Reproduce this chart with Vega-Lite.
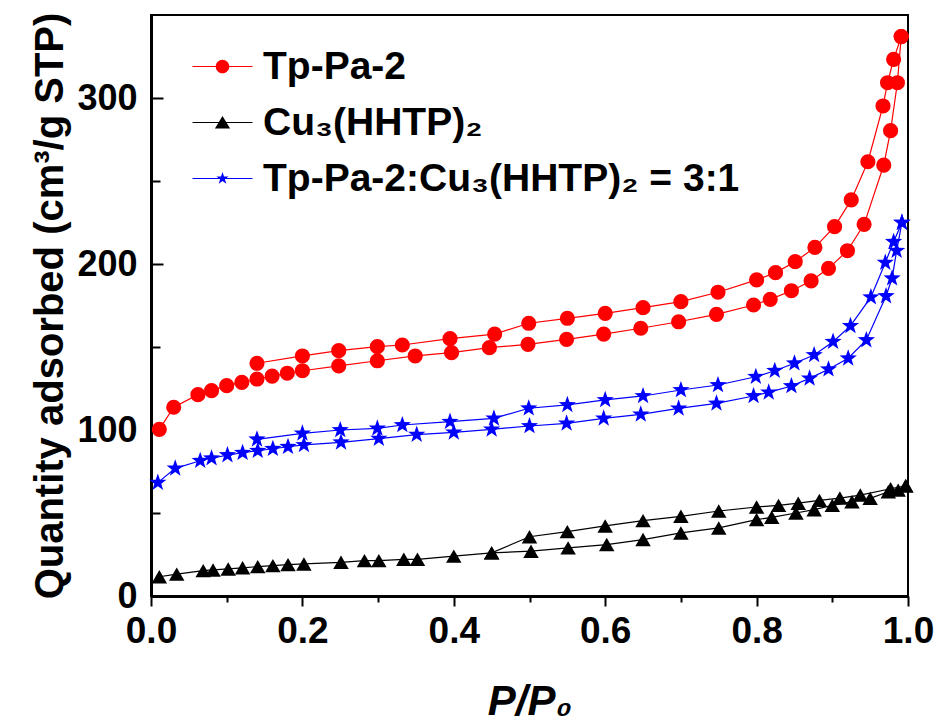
{
  "$schema": "https://vega.github.io/schema/vega-lite/v6.json",
  "width": 757,
  "height": 581,
  "autosize": "none",
  "padding": {"left": 151, "top": 15, "right": 30, "bottom": 131},
  "background": "white",
  "config": {
    "view": {"stroke": "black", "strokeWidth": 2},
    "font": "Liberation Sans"
  },
  "data": {
    "values": [
      {"s": "Tp-Pa-2", "b": "ads", "x": 0.011, "y": 100.4},
      {"s": "Tp-Pa-2", "b": "ads", "x": 0.030, "y": 113.7},
      {"s": "Tp-Pa-2", "b": "ads", "x": 0.062, "y": 121.3},
      {"s": "Tp-Pa-2", "b": "ads", "x": 0.080, "y": 123.7},
      {"s": "Tp-Pa-2", "b": "ads", "x": 0.100, "y": 126.7},
      {"s": "Tp-Pa-2", "b": "ads", "x": 0.120, "y": 128.7},
      {"s": "Tp-Pa-2", "b": "ads", "x": 0.140, "y": 130.7},
      {"s": "Tp-Pa-2", "b": "ads", "x": 0.160, "y": 132.5},
      {"s": "Tp-Pa-2", "b": "ads", "x": 0.180, "y": 134.2},
      {"s": "Tp-Pa-2", "b": "ads", "x": 0.200, "y": 135.7},
      {"s": "Tp-Pa-2", "b": "ads", "x": 0.248, "y": 138.6},
      {"s": "Tp-Pa-2", "b": "ads", "x": 0.299, "y": 141.7},
      {"s": "Tp-Pa-2", "b": "ads", "x": 0.349, "y": 144.6},
      {"s": "Tp-Pa-2", "b": "ads", "x": 0.397, "y": 146.6},
      {"s": "Tp-Pa-2", "b": "ads", "x": 0.447, "y": 149.6},
      {"s": "Tp-Pa-2", "b": "ads", "x": 0.498, "y": 151.6},
      {"s": "Tp-Pa-2", "b": "ads", "x": 0.549, "y": 154.6},
      {"s": "Tp-Pa-2", "b": "ads", "x": 0.598, "y": 157.8},
      {"s": "Tp-Pa-2", "b": "ads", "x": 0.647, "y": 161.3},
      {"s": "Tp-Pa-2", "b": "ads", "x": 0.697, "y": 165.2},
      {"s": "Tp-Pa-2", "b": "ads", "x": 0.747, "y": 169.7},
      {"s": "Tp-Pa-2", "b": "ads", "x": 0.796, "y": 175.3},
      {"s": "Tp-Pa-2", "b": "ads", "x": 0.818, "y": 178.7},
      {"s": "Tp-Pa-2", "b": "ads", "x": 0.846, "y": 183.9},
      {"s": "Tp-Pa-2", "b": "ads", "x": 0.872, "y": 189.8},
      {"s": "Tp-Pa-2", "b": "ads", "x": 0.895, "y": 197.4},
      {"s": "Tp-Pa-2", "b": "ads", "x": 0.920, "y": 208.0},
      {"s": "Tp-Pa-2", "b": "ads", "x": 0.942, "y": 223.9},
      {"s": "Tp-Pa-2", "b": "ads", "x": 0.968, "y": 259.6},
      {"s": "Tp-Pa-2", "b": "ads", "x": 0.977, "y": 280.3},
      {"s": "Tp-Pa-2", "b": "ads", "x": 0.986, "y": 309.2},
      {"s": "Tp-Pa-2", "b": "ads", "x": 0.991, "y": 337.0},
      {"s": "Tp-Pa-2", "b": "des", "x": 0.991, "y": 337.0},
      {"s": "Tp-Pa-2", "b": "des", "x": 0.981, "y": 323.3},
      {"s": "Tp-Pa-2", "b": "des", "x": 0.973, "y": 309.2},
      {"s": "Tp-Pa-2", "b": "des", "x": 0.967, "y": 295.2},
      {"s": "Tp-Pa-2", "b": "des", "x": 0.947, "y": 261.6},
      {"s": "Tp-Pa-2", "b": "des", "x": 0.925, "y": 238.6},
      {"s": "Tp-Pa-2", "b": "des", "x": 0.903, "y": 222.5},
      {"s": "Tp-Pa-2", "b": "des", "x": 0.877, "y": 210.0},
      {"s": "Tp-Pa-2", "b": "des", "x": 0.851, "y": 201.4},
      {"s": "Tp-Pa-2", "b": "des", "x": 0.825, "y": 194.8},
      {"s": "Tp-Pa-2", "b": "des", "x": 0.800, "y": 190.4},
      {"s": "Tp-Pa-2", "b": "des", "x": 0.749, "y": 183.0},
      {"s": "Tp-Pa-2", "b": "des", "x": 0.700, "y": 177.3},
      {"s": "Tp-Pa-2", "b": "des", "x": 0.650, "y": 173.7},
      {"s": "Tp-Pa-2", "b": "des", "x": 0.600, "y": 170.3},
      {"s": "Tp-Pa-2", "b": "des", "x": 0.550, "y": 167.3},
      {"s": "Tp-Pa-2", "b": "des", "x": 0.499, "y": 164.3},
      {"s": "Tp-Pa-2", "b": "des", "x": 0.454, "y": 157.8},
      {"s": "Tp-Pa-2", "b": "des", "x": 0.395, "y": 155.0},
      {"s": "Tp-Pa-2", "b": "des", "x": 0.332, "y": 151.2},
      {"s": "Tp-Pa-2", "b": "des", "x": 0.299, "y": 150.2},
      {"s": "Tp-Pa-2", "b": "des", "x": 0.248, "y": 147.8},
      {"s": "Tp-Pa-2", "b": "des", "x": 0.200, "y": 144.6},
      {"s": "Tp-Pa-2", "b": "des", "x": 0.140, "y": 140.2},
      {"s": "Cu₃(HHTP)₂", "b": "ads", "x": 0.011, "y": 11.6},
      {"s": "Cu₃(HHTP)₂", "b": "ads", "x": 0.034, "y": 13.2},
      {"s": "Cu₃(HHTP)₂", "b": "ads", "x": 0.069, "y": 15.3},
      {"s": "Cu₃(HHTP)₂", "b": "ads", "x": 0.082, "y": 15.7},
      {"s": "Cu₃(HHTP)₂", "b": "ads", "x": 0.102, "y": 16.3},
      {"s": "Cu₃(HHTP)₂", "b": "ads", "x": 0.121, "y": 17.0},
      {"s": "Cu₃(HHTP)₂", "b": "ads", "x": 0.141, "y": 17.7},
      {"s": "Cu₃(HHTP)₂", "b": "ads", "x": 0.161, "y": 18.3},
      {"s": "Cu₃(HHTP)₂", "b": "ads", "x": 0.181, "y": 18.9},
      {"s": "Cu₃(HHTP)₂", "b": "ads", "x": 0.202, "y": 19.3},
      {"s": "Cu₃(HHTP)₂", "b": "ads", "x": 0.251, "y": 20.3},
      {"s": "Cu₃(HHTP)₂", "b": "ads", "x": 0.282, "y": 21.3},
      {"s": "Cu₃(HHTP)₂", "b": "ads", "x": 0.301, "y": 21.3},
      {"s": "Cu₃(HHTP)₂", "b": "ads", "x": 0.334, "y": 22.1},
      {"s": "Cu₃(HHTP)₂", "b": "ads", "x": 0.352, "y": 22.1},
      {"s": "Cu₃(HHTP)₂", "b": "ads", "x": 0.400, "y": 24.0},
      {"s": "Cu₃(HHTP)₂", "b": "ads", "x": 0.450, "y": 26.0},
      {"s": "Cu₃(HHTP)₂", "b": "ads", "x": 0.502, "y": 27.0},
      {"s": "Cu₃(HHTP)₂", "b": "ads", "x": 0.551, "y": 29.0},
      {"s": "Cu₃(HHTP)₂", "b": "ads", "x": 0.602, "y": 31.0},
      {"s": "Cu₃(HHTP)₂", "b": "ads", "x": 0.650, "y": 34.0},
      {"s": "Cu₃(HHTP)₂", "b": "ads", "x": 0.700, "y": 38.0},
      {"s": "Cu₃(HHTP)₂", "b": "ads", "x": 0.750, "y": 41.0},
      {"s": "Cu₃(HHTP)₂", "b": "ads", "x": 0.800, "y": 46.0},
      {"s": "Cu₃(HHTP)₂", "b": "ads", "x": 0.820, "y": 47.4},
      {"s": "Cu₃(HHTP)₂", "b": "ads", "x": 0.852, "y": 50.0},
      {"s": "Cu₃(HHTP)₂", "b": "ads", "x": 0.876, "y": 52.0},
      {"s": "Cu₃(HHTP)₂", "b": "ads", "x": 0.900, "y": 54.6},
      {"s": "Cu₃(HHTP)₂", "b": "ads", "x": 0.926, "y": 56.8},
      {"s": "Cu₃(HHTP)₂", "b": "ads", "x": 0.950, "y": 58.8},
      {"s": "Cu₃(HHTP)₂", "b": "ads", "x": 0.974, "y": 62.8},
      {"s": "Cu₃(HHTP)₂", "b": "ads", "x": 0.987, "y": 63.8},
      {"s": "Cu₃(HHTP)₂", "b": "ads", "x": 0.997, "y": 66.4},
      {"s": "Cu₃(HHTP)₂", "b": "des", "x": 0.997, "y": 66.4},
      {"s": "Cu₃(HHTP)₂", "b": "des", "x": 0.977, "y": 64.6},
      {"s": "Cu₃(HHTP)₂", "b": "des", "x": 0.937, "y": 60.8},
      {"s": "Cu₃(HHTP)₂", "b": "des", "x": 0.910, "y": 59.0},
      {"s": "Cu₃(HHTP)₂", "b": "des", "x": 0.883, "y": 57.6},
      {"s": "Cu₃(HHTP)₂", "b": "des", "x": 0.855, "y": 55.9},
      {"s": "Cu₃(HHTP)₂", "b": "des", "x": 0.829, "y": 54.6},
      {"s": "Cu₃(HHTP)₂", "b": "des", "x": 0.800, "y": 53.6},
      {"s": "Cu₃(HHTP)₂", "b": "des", "x": 0.750, "y": 51.2},
      {"s": "Cu₃(HHTP)₂", "b": "des", "x": 0.700, "y": 48.0},
      {"s": "Cu₃(HHTP)₂", "b": "des", "x": 0.650, "y": 45.4},
      {"s": "Cu₃(HHTP)₂", "b": "des", "x": 0.600, "y": 42.2},
      {"s": "Cu₃(HHTP)₂", "b": "des", "x": 0.550, "y": 38.8},
      {"s": "Cu₃(HHTP)₂", "b": "des", "x": 0.500, "y": 35.7},
      {"s": "Cu₃(HHTP)₂", "b": "des", "x": 0.450, "y": 26.0},
      {"s": "Tp-Pa-2:Cu₃(HHTP)₂ = 3:1", "b": "ads", "x": 0.009, "y": 68.3},
      {"s": "Tp-Pa-2:Cu₃(HHTP)₂ = 3:1", "b": "ads", "x": 0.032, "y": 76.9},
      {"s": "Tp-Pa-2:Cu₃(HHTP)₂ = 3:1", "b": "ads", "x": 0.065, "y": 81.5},
      {"s": "Tp-Pa-2:Cu₃(HHTP)₂ = 3:1", "b": "ads", "x": 0.080, "y": 83.0},
      {"s": "Tp-Pa-2:Cu₃(HHTP)₂ = 3:1", "b": "ads", "x": 0.101, "y": 84.9},
      {"s": "Tp-Pa-2:Cu₃(HHTP)₂ = 3:1", "b": "ads", "x": 0.121, "y": 86.3},
      {"s": "Tp-Pa-2:Cu₃(HHTP)₂ = 3:1", "b": "ads", "x": 0.141, "y": 87.5},
      {"s": "Tp-Pa-2:Cu₃(HHTP)₂ = 3:1", "b": "ads", "x": 0.161, "y": 88.7},
      {"s": "Tp-Pa-2:Cu₃(HHTP)₂ = 3:1", "b": "ads", "x": 0.181, "y": 89.9},
      {"s": "Tp-Pa-2:Cu₃(HHTP)₂ = 3:1", "b": "ads", "x": 0.202, "y": 91.0},
      {"s": "Tp-Pa-2:Cu₃(HHTP)₂ = 3:1", "b": "ads", "x": 0.251, "y": 92.6},
      {"s": "Tp-Pa-2:Cu₃(HHTP)₂ = 3:1", "b": "ads", "x": 0.301, "y": 94.8},
      {"s": "Tp-Pa-2:Cu₃(HHTP)₂ = 3:1", "b": "ads", "x": 0.351, "y": 97.2},
      {"s": "Tp-Pa-2:Cu₃(HHTP)₂ = 3:1", "b": "ads", "x": 0.400, "y": 98.6},
      {"s": "Tp-Pa-2:Cu₃(HHTP)₂ = 3:1", "b": "ads", "x": 0.450, "y": 100.4},
      {"s": "Tp-Pa-2:Cu₃(HHTP)₂ = 3:1", "b": "ads", "x": 0.500, "y": 102.4},
      {"s": "Tp-Pa-2:Cu₃(HHTP)₂ = 3:1", "b": "ads", "x": 0.549, "y": 104.0},
      {"s": "Tp-Pa-2:Cu₃(HHTP)₂ = 3:1", "b": "ads", "x": 0.598, "y": 107.0},
      {"s": "Tp-Pa-2:Cu₃(HHTP)₂ = 3:1", "b": "ads", "x": 0.647, "y": 109.4},
      {"s": "Tp-Pa-2:Cu₃(HHTP)₂ = 3:1", "b": "ads", "x": 0.697, "y": 113.0},
      {"s": "Tp-Pa-2:Cu₃(HHTP)₂ = 3:1", "b": "ads", "x": 0.747, "y": 116.0},
      {"s": "Tp-Pa-2:Cu₃(HHTP)₂ = 3:1", "b": "ads", "x": 0.796, "y": 120.5},
      {"s": "Tp-Pa-2:Cu₃(HHTP)₂ = 3:1", "b": "ads", "x": 0.816, "y": 122.7},
      {"s": "Tp-Pa-2:Cu₃(HHTP)₂ = 3:1", "b": "ads", "x": 0.846, "y": 126.5},
      {"s": "Tp-Pa-2:Cu₃(HHTP)₂ = 3:1", "b": "ads", "x": 0.870, "y": 131.1},
      {"s": "Tp-Pa-2:Cu₃(HHTP)₂ = 3:1", "b": "ads", "x": 0.895, "y": 136.6},
      {"s": "Tp-Pa-2:Cu₃(HHTP)₂ = 3:1", "b": "ads", "x": 0.921, "y": 143.2},
      {"s": "Tp-Pa-2:Cu₃(HHTP)₂ = 3:1", "b": "ads", "x": 0.945, "y": 154.2},
      {"s": "Tp-Pa-2:Cu₃(HHTP)₂ = 3:1", "b": "ads", "x": 0.971, "y": 180.7},
      {"s": "Tp-Pa-2:Cu₃(HHTP)₂ = 3:1", "b": "ads", "x": 0.979, "y": 191.4},
      {"s": "Tp-Pa-2:Cu₃(HHTP)₂ = 3:1", "b": "ads", "x": 0.985, "y": 208.0},
      {"s": "Tp-Pa-2:Cu₃(HHTP)₂ = 3:1", "b": "ads", "x": 0.992, "y": 224.9},
      {"s": "Tp-Pa-2:Cu₃(HHTP)₂ = 3:1", "b": "des", "x": 0.992, "y": 224.9},
      {"s": "Tp-Pa-2:Cu₃(HHTP)₂ = 3:1", "b": "des", "x": 0.981, "y": 213.4},
      {"s": "Tp-Pa-2:Cu₃(HHTP)₂ = 3:1", "b": "des", "x": 0.970, "y": 200.8},
      {"s": "Tp-Pa-2:Cu₃(HHTP)₂ = 3:1", "b": "des", "x": 0.951, "y": 180.0},
      {"s": "Tp-Pa-2:Cu₃(HHTP)₂ = 3:1", "b": "des", "x": 0.924, "y": 162.7},
      {"s": "Tp-Pa-2:Cu₃(HHTP)₂ = 3:1", "b": "des", "x": 0.901, "y": 153.2},
      {"s": "Tp-Pa-2:Cu₃(HHTP)₂ = 3:1", "b": "des", "x": 0.876, "y": 145.2},
      {"s": "Tp-Pa-2:Cu₃(HHTP)₂ = 3:1", "b": "des", "x": 0.850, "y": 140.2},
      {"s": "Tp-Pa-2:Cu₃(HHTP)₂ = 3:1", "b": "des", "x": 0.824, "y": 135.7},
      {"s": "Tp-Pa-2:Cu₃(HHTP)₂ = 3:1", "b": "des", "x": 0.799, "y": 132.1},
      {"s": "Tp-Pa-2:Cu₃(HHTP)₂ = 3:1", "b": "des", "x": 0.749, "y": 127.1},
      {"s": "Tp-Pa-2:Cu₃(HHTP)₂ = 3:1", "b": "des", "x": 0.700, "y": 124.1},
      {"s": "Tp-Pa-2:Cu₃(HHTP)₂ = 3:1", "b": "des", "x": 0.650, "y": 120.5},
      {"s": "Tp-Pa-2:Cu₃(HHTP)₂ = 3:1", "b": "des", "x": 0.600, "y": 118.1},
      {"s": "Tp-Pa-2:Cu₃(HHTP)₂ = 3:1", "b": "des", "x": 0.550, "y": 115.1},
      {"s": "Tp-Pa-2:Cu₃(HHTP)₂ = 3:1", "b": "des", "x": 0.499, "y": 113.1},
      {"s": "Tp-Pa-2:Cu₃(HHTP)₂ = 3:1", "b": "des", "x": 0.453, "y": 107.0},
      {"s": "Tp-Pa-2:Cu₃(HHTP)₂ = 3:1", "b": "des", "x": 0.395, "y": 105.0},
      {"s": "Tp-Pa-2:Cu₃(HHTP)₂ = 3:1", "b": "des", "x": 0.332, "y": 103.0},
      {"s": "Tp-Pa-2:Cu₃(HHTP)₂ = 3:1", "b": "des", "x": 0.299, "y": 101.0},
      {"s": "Tp-Pa-2:Cu₃(HHTP)₂ = 3:1", "b": "des", "x": 0.250, "y": 100.0},
      {"s": "Tp-Pa-2:Cu₃(HHTP)₂ = 3:1", "b": "des", "x": 0.200, "y": 98.0},
      {"s": "Tp-Pa-2:Cu₃(HHTP)₂ = 3:1", "b": "des", "x": 0.140, "y": 94.4}
    ]
  },
  "encoding": {
    "x": {
      "field": "x",
      "type": "quantitative",
      "scale": {"domain": [0, 1], "nice": false},
      "axis": {
        "title": "P/P₀",
        "values": [0, 0.1, 0.2, 0.3, 0.4, 0.5, 0.6, 0.7, 0.8, 0.9, 1.0],
        "labelExpr": "round(datum.value*10)%2==0 ? format(datum.value, '.1f') : ''",
        "grid": false,
        "domainColor": "black",
        "domainWidth": 3,
        "tickColor": "black",
        "tickWidth": 2,
        "tickSize": {"condition": {"test": "round(datum.value*10)%2==1", "value": 6}, "value": 10},
        "labelFont": "Liberation Sans",
        "labelFontSize": 37,
        "labelFontWeight": "bold",
        "labelColor": "black",
        "labelPadding": 7,
        "labelFlush": false,
        "labelOverlap": false,
        "titleFont": "Liberation Sans",
        "titleFontSize": 42,
        "titleFontWeight": "bold",
        "titleFontStyle": "italic",
        "titleColor": "black",
        "titlePadding": 32
      }
    },
    "y": {
      "field": "y",
      "type": "quantitative",
      "scale": {"domain": [0, 350], "nice": false, "zero": false},
      "axis": {
        "title": "Quantity adsorbed (cm³/g STP)",
        "values": [0, 50, 100, 150, 200, 250, 300],
        "labelExpr": "datum.value % 100 == 0 ? format(datum.value, 'd') : ''",
        "grid": false,
        "domainColor": "black",
        "domainWidth": 3,
        "tickColor": "black",
        "tickWidth": 2,
        "tickSize": {"condition": {"test": "datum.value % 100 != 0", "value": -9}, "value": -12},
        "labelFont": "Liberation Sans",
        "labelFontSize": 36,
        "labelFontWeight": "bold",
        "labelColor": "black",
        "labelPadding": 26,
        "labelFlush": false,
        "labelOverlap": false,
        "titleFont": "Liberation Sans",
        "titleFontSize": 40,
        "titleFontWeight": "bold",
        "titleColor": "black",
        "titlePadding": 6
      }
    },
    "color": {
      "field": "s",
      "type": "nominal",
      "scale": {
        "domain": ["Tp-Pa-2", "Cu₃(HHTP)₂", "Tp-Pa-2:Cu₃(HHTP)₂ = 3:1"],
        "range": ["#ff0000", "#000000", "#0000ff"]
      },
      "legend": {
        "orient": "none",
        "legendX": 52,
        "legendY": 32,
        "title": null,
        "padding": 0,
        "labelFont": "Liberation Sans",
        "labelFontSize": 39,
        "labelFontWeight": "bold",
        "labelColor": "black",
        "labelLimit": 0,
        "labelOffset": 21,
        "rowPadding": 16,
        "symbolSize": 256,
        "symbolStrokeWidth": 0,
        "encode": {
          "symbols": {
            "update": {
              "shape": {"signal": "datum.index === 0 ? 'M-3.75,-0.07H3.75V0.07H-3.75ZM0.85,0A0.85,0.85 0 1,1 -0.85,0A0.85,0.85 0 1,1 0.85,0Z' : datum.index === 1 ? 'M-3.75,-0.07H3.75V0.07H-3.75ZM0,-0.8L0.95,0.75L-0.95,0.75Z' : 'M-3.75,-0.07H3.75V0.07H-3.75ZM0,-0.8L0.188,-0.259L0.761,-0.247L0.304,0.099L0.47,0.647L0,0.32L-0.47,0.647L-0.304,0.099L-0.761,-0.247L-0.188,-0.259Z'"},
              "fill": {"signal": "datum.index === 0 ? '#ff0000' : datum.index === 1 ? '#000000' : '#0000ff'"},
              "stroke": {"value": "transparent"},
              "opacity": {"value": 1},
              "fillOpacity": {"value": 1},
              "size": {"value": 256}
            }
          }
        }
      }
    }
  },
  "layer": [
    {
      "mark": {"type": "line", "strokeWidth": 1.2},
      "encoding": {"detail": {"field": "b", "type": "nominal"}}
    },
    {
      "transform": [{"filter": "datum.s === 'Tp-Pa-2'"}],
      "mark": {"type": "point", "filled": true, "opacity": 1, "shape": "circle", "size": 230}
    },
    {
      "transform": [{"filter": "datum.s === 'Cu₃(HHTP)₂'"}],
      "mark": {"type": "point", "filled": true, "opacity": 1, "shape": "triangle-up", "size": 240}
    },
    {
      "transform": [{"filter": "datum.s === 'Tp-Pa-2:Cu₃(HHTP)₂ = 3:1'"}],
      "mark": {"type": "point", "filled": true, "opacity": 1, "size": 330, "shape": "M0,-1L0.235,-0.324L0.951,-0.309L0.38,0.124L0.588,0.809L0,0.4L-0.588,0.809L-0.38,0.124L-0.951,-0.309L-0.235,-0.324Z"}
    }
  ]
}
